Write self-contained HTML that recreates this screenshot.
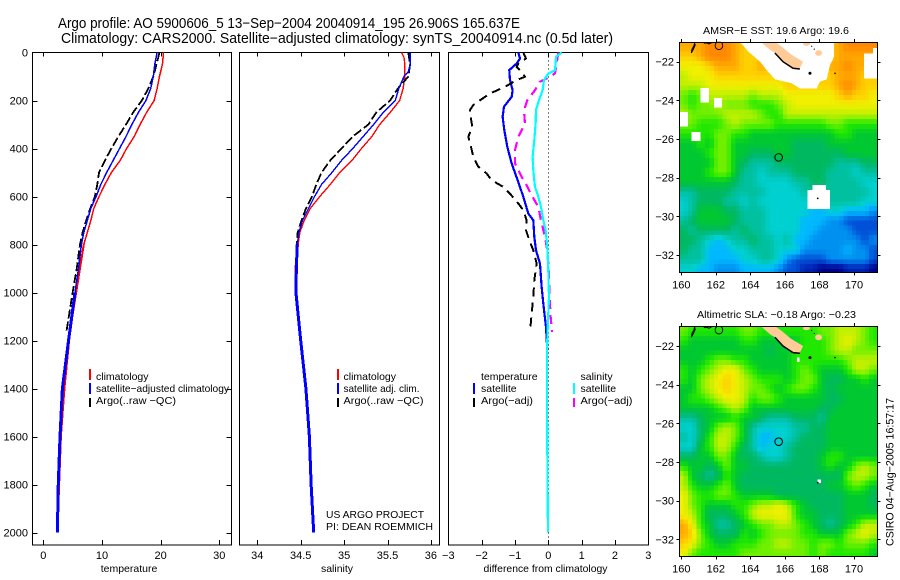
<!DOCTYPE html>
<html>
<head>
<meta charset="utf-8">
<title>Argo profile</title>
<style>
html,body{margin:0;padding:0;background:#fff;}
svg{display:block;font-family:"Liberation Sans",sans-serif;fill:#000;}
text{font-size:11px;}
.frame{fill:none;stroke:#000;stroke-width:1;shape-rendering:crispEdges;}
.tick{stroke:#000;stroke-width:1;shape-rendering:crispEdges;}
.prof{fill:none;shape-rendering:crispEdges;stroke-linejoin:round;}
</style>
</head>
<body>
<svg id="chart" xmlns="http://www.w3.org/2000/svg" width="900" height="580" viewBox="0 0 900 580">
<rect x="0" y="0" width="900" height="580" fill="#fff"/>
<text x="58" y="28" style="font-size:14.5px" textLength="462" lengthAdjust="spacingAndGlyphs">Argo profile: AO 5900606_5 13−Sep−2004 20040914_195 26.906S 165.637E</text>
<text x="61" y="43" style="font-size:14.5px" textLength="552" lengthAdjust="spacingAndGlyphs">Climatology: CARS2000. Satellite−adjusted climatology: synTS_20040914.nc (0.5d later)</text>

<g id="p1"></g>
<g id="p2"></g>
<g id="p3"></g>
<g id="m1"></g>
<g id="m2"></g>

<text x="129" y="572" text-anchor="middle" style="font-size:10.5px">temperature</text>
<text x="337" y="572" text-anchor="middle" style="font-size:10.5px">salinity</text>
<text x="545.5" y="572" text-anchor="middle" style="font-size:10.5px" textLength="124" lengthAdjust="spacingAndGlyphs">difference from climatology</text>

<g>
<rect x="89" y="369" width="2" height="11" fill="#f00"/>
<text x="96" y="380" style="font-size:10.5px">climatology</text>
<rect x="89" y="383" width="2" height="11" fill="#00f"/>
<text x="96" y="392" style="font-size:10.5px" textLength="133" lengthAdjust="spacingAndGlyphs">satellite−adjusted climatology</text>
<rect x="89" y="398" width="2" height="9" fill="#000"/>
<text x="96" y="404" style="font-size:10.5px" textLength="80" lengthAdjust="spacingAndGlyphs">Argo(..raw −QC)</text>
</g>
<g>
<rect x="337" y="369" width="2" height="11" fill="#f00"/>
<text x="343.5" y="380" style="font-size:10.5px">climatology</text>
<rect x="337" y="383" width="2" height="11" fill="#00f"/>
<text x="343.5" y="392" style="font-size:10.5px" textLength="76" lengthAdjust="spacingAndGlyphs">satellite adj. clim.</text>
<rect x="337" y="398" width="2" height="9" fill="#000"/>
<text x="343.5" y="404" style="font-size:10.5px" textLength="80" lengthAdjust="spacingAndGlyphs">Argo(..raw −QC)</text>
</g>
<text x="326" y="518" style="font-size:10.5px" textLength="98" lengthAdjust="spacingAndGlyphs">US ARGO PROJECT</text>
<text x="326" y="530" style="font-size:10.5px" textLength="107" lengthAdjust="spacingAndGlyphs">PI: DEAN ROEMMICH</text>

<g>
<text x="481" y="380" style="font-size:10.5px">temperature</text>
<rect x="473" y="383" width="2" height="11" fill="#00f"/>
<text x="481" y="392" style="font-size:10.5px">satellite</text>
<rect x="473" y="398" width="2" height="9" fill="#000"/>
<text x="481" y="404" style="font-size:10.5px" textLength="52" lengthAdjust="spacingAndGlyphs">Argo(−adj)</text>
<text x="580.5" y="380" style="font-size:10.5px">salinity</text>
<rect x="573" y="383" width="2" height="11" fill="#0ff"/>
<text x="580.5" y="392" style="font-size:10.5px">satellite</text>
<rect x="573" y="398" width="2" height="9" fill="#f0f"/>
<text x="580.5" y="404" style="font-size:10.5px" textLength="52" lengthAdjust="spacingAndGlyphs">Argo(−adj)</text>
</g>

<text x="703" y="34" style="font-size:10.5px" textLength="146" lengthAdjust="spacingAndGlyphs">AMSR−E SST: 19.6 Argo: 19.6</text>
<text x="697" y="318" style="font-size:10.5px" textLength="159" lengthAdjust="spacingAndGlyphs">Altimetric SLA: −0.18 Argo: −0.23</text>
<text transform="translate(893.5,546) rotate(-90)" style="font-size:11px" textLength="148" lengthAdjust="spacingAndGlyphs">CSIRO 04−Aug−2005 16:57:17</text>
</svg>

<script>
/* ---------- profile data ---------- */
var depthTicks = [0,200,400,600,800,1000,1200,1400,1600,1800,2000];
var tempTicks = [0,10,20,30];
var salTicks = [34,34.5,35,35.5,36];
var diffTicks = [-3,-2,-1,0,1,2,3];

var tempClimDepth = [0,50,100,150,200,250,300,350,400,450,500,550,600,650,700,750,800,900,1000,1100,1200,1400,1600,1800,2000];
var tempClim = [20.5,20.3,19.8,19.4,18.9,17.6,16.5,15.5,14.2,13.1,11.6,10.5,9.5,8.6,8.1,7.5,6.9,6.25,5.6,4.95,4.4,3.6,3.0,2.7,2.4];
var tempSatDepth = [0,50,100,150,200,250,300,350,400,450,500,550,600,650,700,750,800,900,1000,1200,1400,1600,1800,2000];
var tempSat = [19.4,19.0,18.75,18.3,17.5,16.2,15.1,14.1,13,11.9,10.8,9.8,9,8.1,7.5,6.9,6.5,6,5.4,4.3,3.25,2.85,2.55,2.4];
var tempArgoDepth = [0,50,100,150,200,250,300,350,400,450,500,550,600,650,700,750,800,900,1000,1170];
var tempArgo = [19.8,19.3,18.75,17.9,16.8,15.3,14.1,12.8,11.6,10.5,9.5,9.2,8.8,8,7.3,6.7,6.25,5.7,5,3.9];

var salClimDepth = [0,20,50,100,150,200,250,300,350,400,450,500,550,600,650,700,750,800,850,900,1000,1200,1400,1600,1800,2000];
var salClim = [35.66,35.69,35.70,35.70,35.68,35.64,35.53,35.41,35.32,35.2,35.09,34.95,34.84,34.72,34.61,34.54,34.49,34.47,34.45,34.44,34.445,34.505,34.565,34.6,34.62,34.65];
var salSatDepth = [0,50,80,100,150,200,250,300,350,400,450,500,550,600,650,700,750,800,900,1000,1200,1400,1600,1800,2000];
var salSat = [35.76,35.76,35.74,35.69,35.63,35.59,35.45,35.34,35.22,35.1,34.97,34.86,34.74,34.66,34.59,34.52,34.48,34.46,34.45,34.445,34.5,34.56,34.6,34.62,34.65];
var salArgoDepth = [0,50,100,150,200,250,300,350,400,450,500,550,600,650,700,750,800,1000,1170];
var salArgo = [35.74,35.76,35.74,35.62,35.53,35.37,35.28,35.1,34.97,34.84,34.74,34.68,34.63,34.56,34.51,34.465,34.455,34.445,34.49];

var diffTempSatDepth = [0,25,46,73,115,157,185,226,268,323,393,462,532,601,671,699,768,824,879,976,1046,1143,1240];
var diffTempSat = [-0.9,-0.85,-0.95,-1.17,-1.15,-1.07,-1.1,-1.33,-1.37,-1.32,-1.23,-1.1,-0.92,-0.75,-0.6,-0.45,-0.42,-0.37,-0.25,-0.2,-0.15,-0.07,-0.03];
var diffTempArgoDepth = [0,25,46,60,81,101,115,143,171,199,219,240,268,310,351,386,435,476,504,532,560,588,629,657,699,740,782,824,879,949,1018,1089,1164];
var diffTempArgo = [-0.75,-0.67,-0.9,-0.95,-0.8,-0.7,-0.95,-1.3,-1.75,-2.05,-2.25,-2.35,-2.33,-2.28,-2.4,-2.33,-2.25,-2.1,-1.85,-1.7,-1.35,-1.15,-0.9,-0.75,-0.65,-0.67,-0.57,-0.45,-0.35,-0.42,-0.45,-0.5,-0.55];
var diffSalArgoDepth = [0,46,87,101,122,157,199,240,296,351,407,463,518,553,588,643,699,768,824,879,963,1046,1101,1164];
var diffSalArgo = [0.3,0.25,0.2,0.05,-0.25,-0.4,-0.63,-0.73,-0.7,-0.9,-1.0,-1.0,-0.8,-0.65,-0.53,-0.3,-0.22,-0.1,-0.03,0,0.03,0.05,0.07,0.11];
var diffSalSatDepth = [0,18,46,74,88,115,157,199,240,296,365,435,490,560,601,643,699,740,810,907,1018,1157,1240,1400,1650,2000];
var diffSalSat = [0.4,0.23,0.22,0.2,0,-0.13,-0.17,-0.28,-0.37,-0.38,-0.42,-0.47,-0.45,-0.4,-0.3,-0.22,-0.15,-0.08,-0.03,0,0.02,-0.02,-0.04,-0.04,-0.03,-0.01];
var zeroLineValue = [0];

/* ---------- map data: colour levels on a half-degree grid, north to south ---------- */
var mapLonStart = 159.88;
var mapLatStart = -20.97;
var mapLonTicks = [160,162,164,166,168,170];
var mapLatTicks = [-22,-24,-26,-28,-30,-32];
var levelColours = ["#000088","#0020b0","#0050d8","#0090f0","#00b8ff","#00d0d0","#00c0a0","#00b860","#00c830","#20e800","#70f000","#c0f000","#f0f000","#ffd000","#ffa800","#ff8800"];

var sstLevels = [
[14,14,14,15,15,15,14,13,13,13,13,13,13,13,13,13,13,13,14,15,15,15,15],
[13,13,14,15,15,15,14,13,13,13,13,13,13,13,13,13,13,13,14,14,14,14,14],
[12,12,12,13,14,14,14,13,13,14,13,13,13,13,13,13,13,14,14,15,14,14,14],
[11,12,12,12,13,13,13,13,13,13,13,13,13,13,13,13,13,13,14,14,14,13,13],
[11,11,11,12,12,12,12,12,12,12,12,12,13,13,13,13,13,13,14,15,14,13,13],
[10,9,10,11,11,11,11,11,10,11,11,11,12,12,12,12,12,12,13,14,13,13,12],
[10,9,10,10,11,10,10,10,9,9,9,10,11,12,12,12,12,12,12,12,12,12,12],
[11,10,10,10,10,11,11,11,11,10,9,9,11,11,11,11,11,11,11,11,11,11,11],
[10,10,9,9,9,10,11,10,10,10,10,9,9,9,9,9,9,10,10,9,9,9,9],
[9,9,9,9,10,10,9,9,8,8,8,8,8,8,8,8,8,8,9,9,8,8,8],
[8,8,9,8,10,10,8,8,8,8,8,8,8,7,7,7,7,8,8,8,8,8,8],
[8,8,8,9,10,10,8,8,7,7,7,8,8,7,7,7,7,7,7,8,8,8,8],
[8,8,8,8,10,10,8,7,6,6,6,7,7,7,7,7,7,7,6,6,6,7,7],
[8,8,8,9,10,10,8,6,6,5,6,6,6,7,7,7,7,6,6,6,5,6,6],
[8,8,8,8,8,8,7,6,6,5,5,5,5,6,6,7,7,6,6,6,6,5,5],
[6,6,7,7,7,7,6,6,6,6,5,5,5,5,6,6,6,6,6,6,6,6,5],
[5,6,7,7,7,6,6,5,6,5,5,5,5,5,5,5,5,6,6,6,6,5,5],
[5,6,8,8,8,7,7,6,6,6,5,5,5,5,5,4,4,5,5,4,4,4,3],
[6,7,8,8,8,8,7,6,6,6,5,5,5,5,4,4,4,3,3,2,2,2,2],
[7,6,7,7,7,7,6,7,6,6,5,5,5,5,4,4,3,3,3,3,2,2,2],
[7,7,6,5,4,5,6,6,7,6,6,5,6,4,4,3,3,3,3,3,3,2,3],
[7,6,6,4,4,4,5,5,6,6,6,5,5,5,3,3,3,3,3,4,3,3,2],
[6,6,6,4,4,4,4,5,5,6,6,5,3,2,2,2,2,3,3,3,3,3,2],
[5,5,4,4,3,3,3,4,4,4,4,3,2,2,1,1,0,0,0,1,1,1,0]
];

var slaLevels = [
[10,9,9,9,9,9,9,10,10,9,9,9,9,9,9,9,10,10,11,11,11,10,9],
[9,8,8,8,8,8,8,9,9,8,8,8,8,8,9,9,9,10,11,12,11,10,9],
[8,8,8,8,8,8,8,8,8,8,7,8,8,9,9,9,9,10,11,11,10,10,10],
[8,8,8,9,10,10,9,9,8,8,8,8,8,9,9,9,9,9,9,10,11,11,11],
[9,8,9,10,11,12,12,10,9,8,8,8,8,9,10,9,8,8,8,9,11,11,10],
[9,8,10,11,12,13,12,11,10,9,9,9,8,9,10,10,8,7,7,8,8,9,8],
[8,8,10,11,12,13,12,11,10,10,9,8,9,10,10,9,8,7,8,8,8,8,8],
[8,9,9,10,11,12,12,11,9,10,10,9,8,8,8,8,8,7,7,8,8,8,8],
[8,8,8,8,9,10,11,10,8,8,8,8,8,8,8,8,7,7,8,8,8,8,8],
[6,6,7,8,8,8,9,8,8,7,6,6,6,7,7,7,6,8,8,8,8,8,8],
[5,5,7,8,10,11,10,8,6,5,5,5,5,6,6,7,7,8,8,8,8,8,8],
[6,5,7,9,11,11,10,8,6,4,4,5,5,6,7,7,7,8,8,8,8,8,8],
[5,5,8,9,11,11,9,7,6,4,5,5,6,7,7,7,7,8,8,8,8,8,8],
[7,7,8,8,10,10,8,7,7,6,5,5,6,7,7,7,8,9,9,8,8,8,8],
[9,8,8,7,8,10,8,8,7,7,7,7,7,7,7,7,8,9,8,8,10,11,10],
[11,8,7,6,7,9,8,7,7,7,7,7,7,7,7,7,7,7,7,10,11,11,10],
[11,9,8,8,9,10,8,7,7,7,7,7,7,7,7,7,7,8,8,9,10,9,8],
[12,10,9,9,10,10,9,8,8,8,8,7,7,7,7,7,7,7,7,8,8,8,7],
[12,10,9,8,8,8,9,9,10,11,11,12,11,9,8,7,7,7,7,8,8,8,7],
[12,11,9,7,7,7,8,9,11,12,12,12,12,9,8,8,7,7,7,8,8,8,8],
[14,12,9,8,6,6,7,8,9,10,10,11,11,10,9,8,7,6,7,8,9,11,11],
[14,13,10,8,7,7,7,9,8,9,10,10,10,10,9,9,8,8,8,10,11,12,11],
[13,12,10,9,8,8,9,9,9,10,10,11,11,10,10,9,10,10,9,10,10,10,9],
[12,10,9,9,9,9,9,10,10,10,10,10,10,10,10,9,10,9,9,9,9,9,8]
];

/* missing-data areas and geography, as lon / lat */
var sstMissingBoxes = [
[161.1,-23.36,161.6,-24.12],[161.9,-23.88,162.35,-24.38],[159.88,-24.6,160.38,-25.36],
[160.6,-25.64,161.1,-26.09],[167.3,-28.64,168.6,-29.62],[167.6,-28.38,168.38,-28.64],
[170.58,-21.57,171.35,-22.86],[171.1,-21.3,171.35,-21.57]
];
var slaMissingBoxes = [[166.7,-22.6,166.85,-22.82],[167.88,-28.9,168.09,-29.1]];
var sstMissingLon = [163.4,163.88,164.56,164.94,165.42,166.39,166.87,167.84,168.03,168.42,168.61,168.84,168.84];
var sstMissingLat = [-20.97,-21.48,-22,-22.43,-22.91,-23.12,-23.38,-23.38,-23.03,-22.91,-22.17,-21.74,-20.97];
var caledoniaLon = [164.61,165.14,165.42,165.89,166.47,166.87,167.05,166.35,165.9,165.55,165.45];
var caledoniaLat = [-20.98,-21.39,-21.55,-22,-22.34,-22.34,-22.0,-21.62,-21.28,-21.05,-20.98];
var caledoniaShoreLon = [165.42,165.89,166.47,166.87];
var caledoniaShoreLat = [-21.55,-22,-22.34,-22.38];
var loyaltyIslands = [[167.25,-21.08,0.2,0.1],[167.95,-21.55,0.2,0.15]];
var smallIslands = [[167.45,-22.6,1.5],[168.9,-22.6,0.8],[167.9,-29.07,0.9],[167.55,-21.2,0.6],[167.7,-21.35,0.6]];
var solomonLon = [160.8,160.72,160.62,160.58,160.7,160.82];
var solomonLat = [-20.98,-21.2,-21.35,-21.55,-21.35,-21.1];
var isletLon = [161.3,161.45,161.6,161.75];
var isletLat = [-21.05,-21.02,-21.08,-21.02];
var floatLon = [165.637];
var floatLat = [-26.95];
var floatRadiusPx = 3.8;

/* ---------- scales ---------- */
var NS = 'http://www.w3.org/2000/svg';
function mk(parent, tag, attrs, txt){
  var el = document.createElementNS(NS, tag);
  for (var k in attrs) el.setAttribute(k, attrs[k]);
  if (txt !== undefined) el.textContent = txt;
  parent.appendChild(el);
  return el;
}
function yDepth(d){ return 52.5 + d * 0.24; }
function xTemp(t){ return 43.3 + t * 5.867; }
function xSal(s){ return 257.3 + (s - 34) * 86.8; }
function xDiff(v){ return 548.3 + v * 33.33; }
function fmtMinus(v){ return String(v).replace('-', '\u2212'); }

function drawProfile(g, xs, ds, xf, colour, width, dash, name, thickFrom, thickWidth){
  var pts = [], deep = [];
  for (var i = 0; i < xs.length; i++) {
    var p = xf(xs[i]).toFixed(2) + ',' + yDepth(ds[i]).toFixed(2);
    pts.push(p);
    if (thickFrom !== undefined && ds[i] >= thickFrom) deep.push(p);
  }
  var attrs = {'class':'prof', points: pts.join(' '), stroke: colour, 'stroke-width': width};
  if (dash) attrs['stroke-dasharray'] = dash;
  var el = mk(g, 'polyline', attrs);
  
  
  if (deep.length > 1) {
    var d2 = mk(g, 'polyline', {'class':'prof', points: deep.join(' '), stroke: colour, 'stroke-width': thickWidth});
    
    
  }
}

function drawPanel(id, left, right, xf, ticks, showDepth, tickName){
  var g = document.getElementById(id);
  var frame = mk(g, 'rect', {'class':'frame', x:left, y:52.5, width:right-left, height:492.5});
  
  
  ticks.forEach(function(t){
    var x = Math.round(xf(t)) + 0.5;
    var a = mk(g, 'line', {'class':'tick', x1:x, x2:x, y1:52.5, y2:56.5});
    
    
    var b = mk(g, 'line', {'class':'tick', x1:x, x2:x, y1:540, y2:545});
    
    
    var lab = mk(g, 'text', {x:xf(t), y:559, 'text-anchor':'middle'}, fmtMinus(t));
    
    
  });
  if (showDepth) {
    depthTicks.forEach(function(d){
      var y = Math.round(yDepth(d)) + 0.5;
      if (d > 0) {
        var a = mk(g, 'line', {'class':'tick', x1:left, x2:left+5, y1:y, y2:y});
        
        
        var b = mk(g, 'line', {'class':'tick', x1:right-5, x2:right, y1:y, y2:y});
        
        
      }
      var lab = mk(g, 'text', {x:28, y:yDepth(d)+4, 'text-anchor':'end'}, d);
      
      
    });
  }
  return g;
}

var g1 = drawPanel('p1', 32.5, 231.5, xTemp, tempTicks, true, 'temperature-tick-label');
drawProfile(g1, tempClim, tempClimDepth, xTemp, '#f00', 1.5, null, 'temperature-climatology-line', 800, 2);
drawProfile(g1, tempArgo, tempArgoDepth, xTemp, '#000', 1.8, '9 3', 'temperature-argo-line');
drawProfile(g1, tempSat, tempSatDepth, xTemp, '#00f', 1.5, null, 'temperature-satellite-line', 1000, 3);

var g2 = drawPanel('p2', 239.5, 439.5, xSal, salTicks, false, 'salinity-tick-label');
drawProfile(g2, salClim, salClimDepth, xSal, '#f00', 1.4, null, 'salinity-climatology-line', 800, 2);
drawProfile(g2, salArgo, salArgoDepth, xSal, '#000', 1.8, '9 3', 'salinity-argo-line');
drawProfile(g2, salSat, salSatDepth, xSal, '#00f', 1.4, null, 'salinity-satellite-line', 800, 3);

var g3 = drawPanel('p3', 448.5, 648.5, xDiff, diffTicks, false, 'difference-tick-label');
var zeroLine = mk(g3, 'line', {x1:xDiff(zeroLineValue[0]), x2:xDiff(zeroLineValue[0]), y1:52.5, y2:545, stroke:'#000', 'stroke-width':1, 'stroke-dasharray':'1 3', 'shape-rendering':'crispEdges'});


drawProfile(g3, diffTempSat, diffTempSatDepth, xDiff, '#00f', 2.2, null, 'diff-temperature-satellite-line');
drawProfile(g3, diffTempArgo, diffTempArgoDepth, xDiff, '#000', 2, '9 6', 'diff-temperature-argo-line');
drawProfile(g3, diffSalArgo, diffSalArgoDepth, xDiff, '#f0f', 2.2, '9 6', 'diff-salinity-argo-line');
drawProfile(g3, diffSalSat, diffSalSatDepth, xDiff, '#0ff', 2.2, null, 'diff-salinity-satellite-line');

/* ---------- maps ---------- */
function hexRgb(h){ return [parseInt(h.substr(1,2),16), parseInt(h.substr(3,2),16), parseInt(h.substr(5,2),16)]; }
function levelColour(v){
  var n = levelColours.length - 1;
  var a = Math.max(0, Math.min(n, v));
  var i = Math.min(n - 1, Math.floor(a));
  var f = a - i, c0 = hexRgb(levelColours[i]), c1 = hexRgb(levelColours[i + 1]);
  return 'rgb(' + Math.round(c0[0] + (c1[0]-c0[0])*f) + ',' + Math.round(c0[1] + (c1[1]-c0[1])*f) + ',' + Math.round(c0[2] + (c1[2]-c0[2])*f) + ')';
}
function sampleLevel(levels, r, c){
  var rn = levels.length - 1, cn = levels[0].length - 1;
  r = Math.max(0, Math.min(rn, r));
  c = Math.max(0, Math.min(cn, c));
  var r0 = Math.floor(r), c0 = Math.floor(c);
  var r1 = Math.min(rn, r0 + 1), c1 = Math.min(cn, c0 + 1);
  var fr = r - r0, fc = c - c0;
  return (levels[r0][c0]*(1-fc) + levels[r0][c1]*fc)*(1-fr) + (levels[r1][c0]*(1-fc) + levels[r1][c1]*fc)*fr;
}
function drawMap(id, levels, boxes, top, bottom, clipId, prefix, maskLon, maskLat){
  var g = document.getElementById(id);
  var left = 679.5, right = 877.5;
  var sub = 2;
  function xLon(lon){ return 681.3 + (lon - 160) * 17.27; }
  function yLat(lat){ return top + (-22 - lat) * 19.33; }
  function poly(lons, lats){
    var p = [];
    for (var i = 0; i < lons.length; i++) p.push(xLon(lons[i]).toFixed(1) + ',' + yLat(lats[i]).toFixed(1));
    return p.join(' ');
  }
  var defs = mk(g, 'defs', {});
  var cp = mk(defs, 'clipPath', {id: clipId});
  mk(cp, 'rect', {x:left, y:yLat(mapLatStart), width:right-left, height:bottom-yLat(mapLatStart)});
  var inner = mk(g, 'g', {'clip-path':'url(#' + clipId + ')', 'shape-rendering':'crispEdges'});
  
  
  for (var r = 0; r < levels.length * sub; r++) {
    for (var c = 0; c < levels[0].length * sub; c++) {
      var v = sampleLevel(levels, (r + 0.5) / sub - 0.5, (c + 0.5) / sub - 0.5);
      var x0 = xLon(mapLonStart + c * 0.5 / sub), x1 = xLon(mapLonStart + (c + 1) * 0.5 / sub);
      var y0 = yLat(mapLatStart - r * 0.5 / sub), y1 = yLat(mapLatStart - (r + 1) * 0.5 / sub);
      var cell = mk(inner, 'rect', {x:x0.toFixed(1), y:y0.toFixed(1), width:(x1-x0+0.5).toFixed(1), height:(y1-y0+0.5).toFixed(1), fill:levelColour(v)});
      
      
    }
  }
  if (maskLon) {
    var m = mk(inner, 'polygon', {points: poly(maskLon, maskLat), fill:'#fff'});
    
    
  }
  boxes.forEach(function(b){
    var mb = mk(inner, 'rect', {x:xLon(b[0]), y:yLat(b[1]), width:xLon(b[2])-xLon(b[0]), height:yLat(b[3])-yLat(b[1]), fill:'#fff'});
    
    
  });
  var land = mk(inner, 'polygon', {points: poly(caledoniaLon, caledoniaLat), fill:'#ffcc99', 'shape-rendering':'auto'});
  
  
  var shore = mk(inner, 'polyline', {points: poly(caledoniaShoreLon, caledoniaShoreLat), fill:'none', stroke:'#000', 'stroke-width':1.5, 'shape-rendering':'auto'});
  
  
  loyaltyIslands.forEach(function(s){
    var e = mk(inner, 'ellipse', {cx:xLon(s[0]), cy:yLat(s[1]), rx:s[2]*17.27, ry:s[3]*19.33, fill:'#ffcc99', 'shape-rendering':'auto'});
    
    
  });
  smallIslands.forEach(function(s){
    var e = mk(inner, 'circle', {cx:xLon(s[0]), cy:yLat(s[1]), r:s[2], fill:'#000', 'shape-rendering':'auto'});
    
    
  });
  var sol = mk(inner, 'polyline', {points: poly(solomonLon, solomonLat), fill:'none', stroke:'#000', 'stroke-width':1, 'shape-rendering':'auto'});
  
  
  var isl = mk(inner, 'polyline', {points: poly(isletLon, isletLat), fill:'none', stroke:'#000', 'stroke-width':1, 'shape-rendering':'auto'});
  
  
  var sol2 = mk(inner, 'ellipse', {cx:xLon(162.18), cy:yLat(-21.17), rx:3.8, ry:4, fill:'none', stroke:'#000', 'stroke-width':0.9, 'shape-rendering':'auto'});
  
  
  var mark = mk(inner, 'circle', {cx:xLon(floatLon[0]), cy:yLat(floatLat[0]), r:floatRadiusPx, fill:'none', stroke:'#000', 'stroke-width':1, 'shape-rendering':'auto'});
  
  
  var fr = mk(g, 'rect', {'class':'frame', x:left, y:Math.round(yLat(mapLatStart))+0.5, width:right-left, height:bottom-Math.round(yLat(mapLatStart))-0.5});
  
  
  mapLonTicks.forEach(function(lon){
    var x = Math.round(xLon(lon)) + 0.5;
    var a = mk(g, 'line', {'class':'tick', x1:x, x2:x, y1:yLat(mapLatStart)-3, y2:yLat(mapLatStart)});
    
    
    var b = mk(g, 'line', {'class':'tick', x1:x, x2:x, y1:bottom, y2:bottom+3});
    
    
    var lab = mk(g, 'text', {x:xLon(lon), y:bottom+16, 'text-anchor':'middle'}, lon);
    
    
  });
  mapLatTicks.forEach(function(lat){
    var y = Math.round(yLat(lat)) + 0.5;
    var a = mk(g, 'line', {'class':'tick', x1:left-3, x2:left, y1:y, y2:y});
    
    
    var b = mk(g, 'line', {'class':'tick', x1:right, x2:right+3, y1:y, y2:y});
    
    
    var lab = mk(g, 'text', {x:674, y:yLat(lat)+4, 'text-anchor':'end'}, fmtMinus(lat));
    
    
  });
}
drawMap('m1', sstLevels, sstMissingBoxes, 61.7, 272.5, 'clip-sst', 'sst', sstMissingLon, sstMissingLat);
drawMap('m2', slaLevels, slaMissingBoxes, 346, 556.5, 'clip-sla', 'sla', null, null);
</script>
</body>
</html>
